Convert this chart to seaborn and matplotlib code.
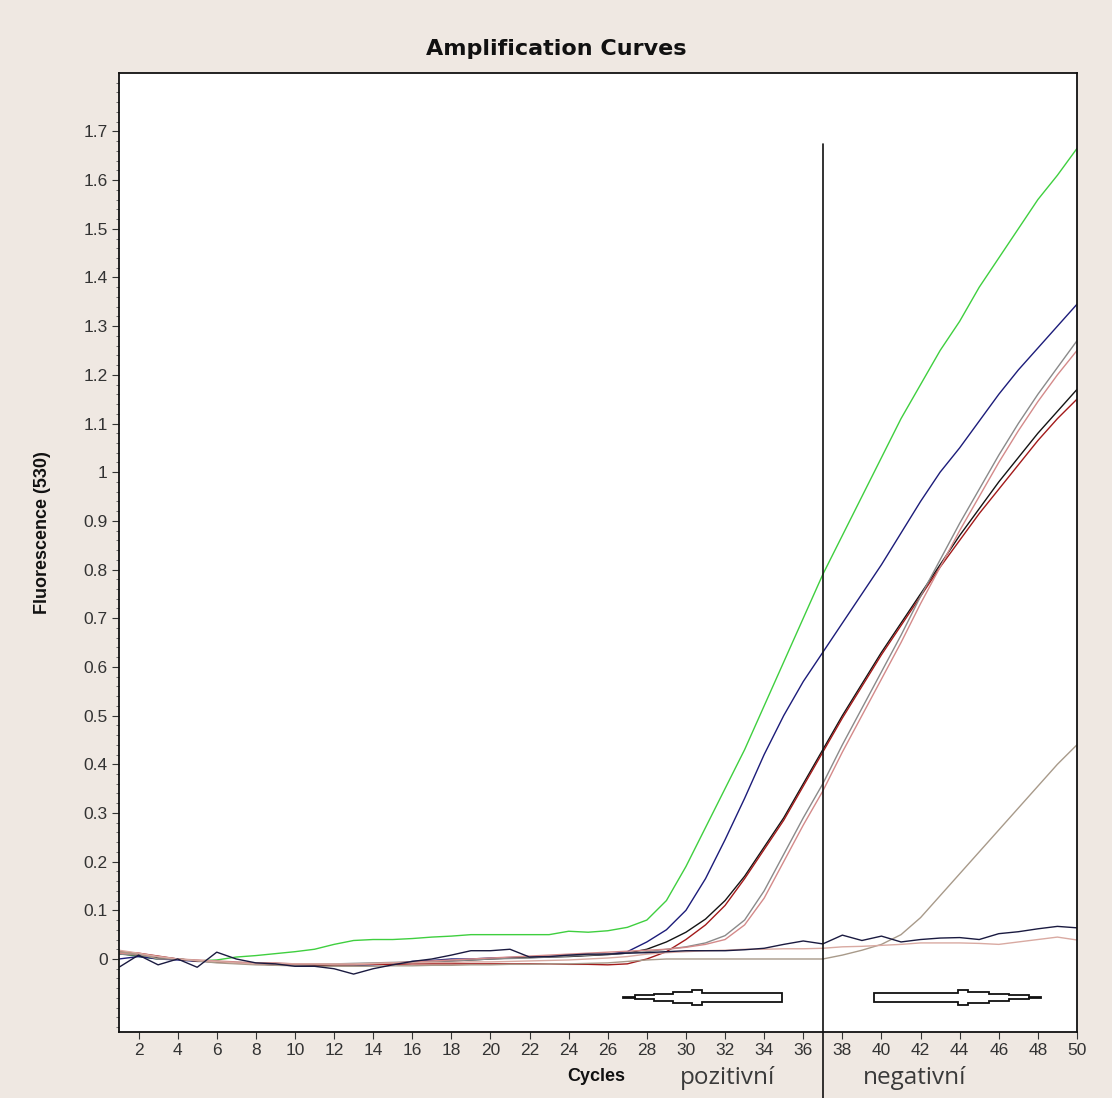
import numpy as np
import pandas as pd
from matplotlib import pyplot as plt
from matplotlib.patches import Polygon
import matplotlib.transforms as mtransforms
import seaborn as sns

# cycles 1..50
cycles = list(range(1, 51))

green = [0.012, 0.005, 0.0, 0.0, -0.004, -0.002, 0.004, 0.007, 0.011, 0.015,
         0.02, 0.03, 0.038, 0.04, 0.04, 0.042, 0.045, 0.047, 0.05, 0.05,
         0.05, 0.05, 0.05, 0.057, 0.055, 0.058, 0.065, 0.08, 0.12, 0.19,
         0.27, 0.35, 0.43, 0.52, 0.61, 0.7, 0.79, 0.87, 0.95, 1.03,
         1.11, 1.18, 1.25, 1.31, 1.38, 1.44, 1.5, 1.56, 1.61, 1.665]
navy = [0.0, 0.005, 0.0, -0.002, -0.005, -0.005, -0.008, -0.01, -0.012, -0.013,
        -0.014, -0.014, -0.013, -0.012, -0.01, -0.005, -0.003, 0.0, 0.0, 0.002,
        0.003, 0.004, 0.005, 0.006, 0.008, 0.01, 0.015, 0.035, 0.06, 0.1,
        0.165, 0.245, 0.33, 0.42, 0.5, 0.57, 0.63, 0.69, 0.75, 0.81,
        0.875, 0.94, 1.0, 1.05, 1.105, 1.16, 1.21, 1.255, 1.3, 1.345]
black = [0.01, 0.008, 0.003, 0.0, -0.004, -0.006, -0.008, -0.01, -0.012, -0.012,
         -0.013, -0.013, -0.012, -0.011, -0.01, -0.008, -0.006, -0.004, -0.002, 0.0,
         0.002, 0.003, 0.004, 0.005, 0.007, 0.009, 0.012, 0.02, 0.035, 0.055,
         0.082, 0.12, 0.17, 0.23, 0.29, 0.36, 0.43, 0.5, 0.565, 0.63,
         0.69, 0.75, 0.81, 0.87, 0.925, 0.98, 1.03, 1.08, 1.125, 1.17]
darkred = [0.015, 0.012, 0.006, 0.0, -0.004, -0.006, -0.008, -0.01, -0.01, -0.011,
           -0.012, -0.012, -0.011, -0.011, -0.011, -0.01, -0.01, -0.01, -0.01, -0.01,
           -0.01, -0.01, -0.01, -0.011, -0.011, -0.012, -0.01, 0.0, 0.015, 0.04,
           0.07, 0.11, 0.165, 0.225, 0.285, 0.355, 0.425, 0.495, 0.56, 0.625,
           0.685, 0.745, 0.805, 0.86, 0.915, 0.965, 1.015, 1.065, 1.11, 1.15]
gray = [0.01, 0.008, 0.004, 0.0, -0.003, -0.005, -0.007, -0.008, -0.009, -0.01,
        -0.01, -0.01, -0.009, -0.008, -0.007, -0.006, -0.005, -0.004, -0.002, 0.0,
        0.001, 0.002, 0.004, 0.006, 0.008, 0.01, 0.012, 0.015, 0.02, 0.025,
        0.033, 0.048, 0.08, 0.14, 0.215, 0.29, 0.36, 0.44, 0.515, 0.59,
        0.665, 0.745, 0.82, 0.895, 0.965, 1.035, 1.1, 1.16, 1.215, 1.27]
pink = [0.012, 0.01, 0.005, 0.0, -0.002, -0.004, -0.006, -0.008, -0.008, -0.01,
        -0.01, -0.012, -0.012, -0.01, -0.008, -0.006, -0.004, -0.002, 0.0, 0.002,
        0.004, 0.006, 0.008, 0.01, 0.012, 0.014, 0.016, 0.018, 0.02, 0.024,
        0.03, 0.04, 0.07, 0.125, 0.2, 0.275, 0.345, 0.425, 0.5, 0.575,
        0.65, 0.73, 0.805, 0.88, 0.95, 1.02, 1.085, 1.145, 1.2, 1.25]
tan = [0.015, 0.01, 0.0, 0.0, -0.004, -0.008, -0.01, -0.012, -0.013, -0.014,
       -0.015, -0.015, -0.015, -0.015, -0.014, -0.014, -0.013, -0.013, -0.012, -0.012,
       -0.011, -0.011, -0.01, -0.01, -0.009, -0.008, -0.005, -0.002, 0.0, 0.0,
       0.0, 0.0, 0.0, 0.0, 0.0, 0.0, 0.0, 0.008, 0.018, 0.03,
       0.05, 0.085, 0.13, 0.175, 0.22, 0.265, 0.31, 0.355, 0.4, 0.44]
neg_dark = [-0.017, 0.008, -0.012, 0.0, -0.017, 0.014, 0.0, -0.008, -0.01, -0.015,
            -0.015, -0.02, -0.031, -0.02, -0.012, -0.005, 0.0, 0.008, 0.017, 0.017,
            0.02, 0.004, 0.005, 0.008, 0.01, 0.01, 0.012, 0.013, 0.015, 0.017,
            0.017, 0.017, 0.019, 0.022, 0.03, 0.037, 0.031, 0.049, 0.038, 0.047,
            0.035, 0.04, 0.043, 0.044, 0.04, 0.052, 0.056, 0.062, 0.067, 0.064]
neg_salmon = [0.018, 0.012, 0.005, 0.0, -0.003, -0.005, -0.008, -0.01, -0.01, -0.01,
              -0.01, -0.01, -0.01, -0.009, -0.008, -0.008, -0.007, -0.007, -0.006, -0.006,
              -0.005, -0.004, -0.003, -0.002, 0.0, 0.002, 0.005, 0.01, 0.013, 0.015,
              0.017, 0.018, 0.02, 0.02, 0.021, 0.021, 0.022, 0.025, 0.026, 0.028,
              0.03, 0.033, 0.033, 0.033, 0.032, 0.03, 0.035, 0.04, 0.045, 0.039]

series = {'green': green, 'navy': navy, 'black': black, 'darkred': darkred,
          'gray': gray, 'pink': pink, 'tan': tan, 'neg_salmon': neg_salmon,
          'neg_dark': neg_dark}
palette = {'green': '#3fcf3f', 'navy': '#1c1c7a', 'black': '#141414',
           'darkred': '#a31a1a', 'gray': '#8a8a8a', 'pink': '#d48a8a',
           'tan': '#a89a8a', 'neg_salmon': '#d9aaa2', 'neg_dark': '#1a1a40'}

yticks = [round(0.1 * i, 1) for i in range(18)]
ytick_labels = ['0' if t == 0 else ('1' if t == 1 else f'{t:g}') for t in yticks]
xticks = list(range(2, 51, 2))
cutoff_cycle = 37

df = pd.DataFrame([(name, c, v) for name, vals in series.items()
                   for c, v in zip(cycles, vals)],
                  columns=['well', 'cycle', 'fluor'])

sns.set_theme(style='ticks')
plt.rcParams['font.family'] = ['Liberation Sans', 'DejaVu Sans']

fig = plt.figure(figsize=(11.12, 10.98), dpi=100, facecolor='#efe8e2')
ax = fig.add_axes([0.107, 0.0601, 0.8615, 0.8734])
ax.set_facecolor('white')

sns.lineplot(data=df, x='cycle', y='fluor', hue='well', palette=palette,
             hue_order=list(series.keys()), legend=False, linewidth=1.0, ax=ax)

ax.set_xlim(1, 50)
ax.set_ylim(-0.15, 1.82)
ax.set_xticks(xticks)
ax.set_xticklabels([str(t) for t in xticks], fontsize=12.5, color='#333333')
ax.set_yticks(yticks)
ax.set_yticklabels(ytick_labels, fontsize=12.5, color='#333333')
ax.set_yticks(np.arange(-0.14, 1.81, 0.02), minor=True)
ax.tick_params(axis='both', which='major', length=5, width=0.8, color='#333333', pad=3)
ax.tick_params(axis='y', which='minor', length=2.5, width=0.6, color='#555555')
ax.set_xlabel('')
ax.set_ylabel('')
for sp in ax.spines.values():
    sp.set_visible(True)
    sp.set_color('#111111')
    sp.set_linewidth(1.3)

# cutoff line, runs below the axes
ax.plot([cutoff_cycle, cutoff_cycle], [1.675, -0.285], color='#111111',
        lw=1.2, clip_on=False, zorder=5)

# block arrows (drawn in pixel offsets)
fig.canvas.draw()
bbox = ax.get_window_extent()
px_x = bbox.width / 49.0
px_y = bbox.height / 1.97
profile = [(0, 84, 4.5), (84, 94, 7.5), (94, 115, 5.5), (115, 135, 3.5),
           (135, 155, 2.0), (155, 167, 0.7)]


def block_arrow(tail_c, yc, direction, scale):
    top = []
    for x0, x1, h in profile:
        top += [(x0 * scale, h), (x1 * scale, h)]
    bottom = [(x, -h) for x, h in reversed(top)]
    pts = [(tail_c + direction * x / px_x, yc + h / px_y) for x, h in top + bottom]
    ax.add_patch(Polygon(pts, closed=True, facecolor='white',
                         edgecolor='#111111', lw=1.3, zorder=6))


block_arrow(34.9, -0.079, -1, 0.95)
block_arrow(39.6, -0.079, 1, 1.0)

fig.text(0.5, 0.955, 'Amplification Curves', ha='center', va='center',
         fontsize=16, fontweight='heavy', family='DejaVu Sans', color='#111111')
fig.text(0.038, 0.515, 'Fluorescence (530)', rotation=90, ha='center',
         va='center', fontsize=13, fontweight='bold', color='#111111')

blend = mtransforms.blended_transform_factory(ax.transData, fig.transFigure)
ax.text(25.4, 0.02, 'Cycles', transform=blend, ha='center', va='center',
        fontsize=13, fontweight='bold', color='#111111')
ax.text(32.1, 0.018, 'pozitivní', transform=blend, ha='center', va='center',
        fontsize=17.5, family='Open Sans', color='#3a3a3a')
ax.text(41.7, 0.018, 'negativní', transform=blend, ha='center', va='center',
        fontsize=17.5, family='Open Sans', color='#3a3a3a')

fig.savefig('out.png', dpi=100, facecolor=fig.get_facecolor())
